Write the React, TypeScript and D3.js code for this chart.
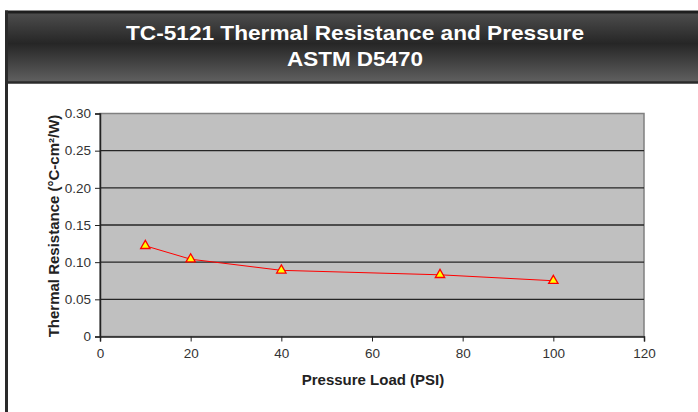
import { useEffect, useRef } from 'react'
import * as d3 from 'd3'

const pressure = [10, 20, 40, 75, 100]
const resistance = [0.122, 0.104, 0.089, 0.083, 0.075]
const xTicks = [0, 20, 40, 60, 80, 100, 120]
const yTicks = [0, 0.05, 0.1, 0.15, 0.2, 0.25, 0.3]
const titleLines = ['TC-5121 Thermal Resistance and Pressure', 'ASTM D5470']
const titleWidths = [458, 136]

export default function App() {
  const ref = useRef<SVGSVGElement>(null)

  useEffect(() => {
    const svg = d3.select(ref.current)
    svg.selectAll('*').remove()

    const W = 698, H = 412
    const plot = { left: 100, right: 644, top: 113.5, bottom: 336.5 }
    const font = 'Liberation Sans, Arial, sans-serif'

    const x = d3.scaleLinear().domain([0, 120]).range([plot.left, plot.right])
    const y = d3.scaleLinear().domain([0, 0.3]).range([plot.bottom, plot.top])

    // frame + title bar
    const defs = svg.append('defs')
    const grad = defs.append('linearGradient').attr('id', 'tb').attr('x1', 0).attr('y1', 0).attr('x2', 0).attr('y2', 1)
    grad.append('stop').attr('offset', '0%').attr('stop-color', '#4e4e4e')
    grad.append('stop').attr('offset', '45%').attr('stop-color', '#262626')
    grad.append('stop').attr('offset', '100%').attr('stop-color', '#606060')

    svg.append('rect').attr('x', 0).attr('y', 0).attr('width', W).attr('height', H).attr('fill', '#fff')
    svg.append('rect').attr('x', 6).attr('y', 12).attr('width', W).attr('height', 70).attr('fill', 'url(#tb)')
    svg.append('line').attr('x1', 5).attr('x2', W).attr('y1', 12).attr('y2', 12).attr('stroke', '#1e1e1e').attr('stroke-width', 3)
    svg.append('line').attr('x1', 5).attr('x2', W).attr('y1', 82.5).attr('y2', 82.5).attr('stroke', '#2a2a2a').attr('stroke-width', 2.5)
    svg.append('line').attr('x1', 6.5).attr('x2', 6.5).attr('y1', 10.5).attr('y2', H).attr('stroke', '#2a2a2a').attr('stroke-width', 3)

    svg.selectAll('text.title')
      .data(titleLines)
      .join('text')
      .attr('class', 'title')
      .attr('x', 355)
      .attr('y', (d, i) => 39.5 + i * 26.5)
      .attr('text-anchor', 'middle')
      .attr('fill', '#fff')
      .attr('font-family', font)
      .attr('font-weight', 'bold')
      .attr('font-size', 21)
      .attr('textLength', (d, i) => titleWidths[i])
      .attr('lengthAdjust', 'spacingAndGlyphs')
      .text((d) => d)

    // plot area
    svg.append('rect')
      .attr('x', plot.left).attr('y', plot.top)
      .attr('width', plot.right - plot.left).attr('height', plot.bottom - plot.top)
      .attr('fill', '#c0c0c0').attr('stroke', '#808080').attr('stroke-width', 1.5)

    svg.append('g')
      .selectAll('line')
      .data(yTicks.filter((d) => d > 0 && d < 0.3))
      .join('line')
      .attr('x1', plot.left).attr('x2', plot.right)
      .attr('y1', (d) => y(d)).attr('y2', (d) => y(d))
      .attr('stroke', '#262626').attr('stroke-width', 1.3)

    const fmtY = (d: number) => (d === 0 ? '0' : d3.format('.2f')(d))

    const yAxis = svg.append('g')
      .attr('transform', `translate(${plot.left},0)`)
      .call(d3.axisLeft(y).tickValues(yTicks).tickFormat((d) => fmtY(+d)).tickSize(5).tickPadding(4))
    const xAxis = svg.append('g')
      .attr('transform', `translate(0,${plot.bottom})`)
      .call(d3.axisBottom(x).tickValues(xTicks).tickFormat(d3.format('d')).tickSize(5).tickPadding(7))

    ;[yAxis, xAxis].forEach((g) => {
      g.select('.domain').attr('stroke', '#222').attr('stroke-width', 1.5)
      g.selectAll('.tick line').attr('stroke', '#222')
      g.selectAll('.tick text')
        .attr('fill', '#333')
        .attr('font-family', font)
        .attr('font-size', 13.5)
    })

    // axis titles
    svg.append('text')
      .attr('transform', `translate(59,${(plot.top + plot.bottom) / 2 + 1}) rotate(-90)`)
      .attr('text-anchor', 'middle')
      .attr('fill', '#222')
      .attr('font-family', font)
      .attr('font-weight', 'bold')
      .attr('font-size', 15)
      .text('Thermal Resistance (°C-cm²/W)')

    svg.append('text')
      .attr('x', 373).attr('y', 385)
      .attr('text-anchor', 'middle')
      .attr('fill', '#222')
      .attr('font-family', font)
      .attr('font-weight', 'bold')
      .attr('font-size', 15)
      .text('Pressure Load (PSI)')

    // series
    const pts = pressure.map((p, i) => [p, resistance[i]] as [number, number])
    const line = d3.line<[number, number]>().x((d) => x(d[0])).y((d) => y(d[1]))
    svg.append('path')
      .datum(pts)
      .attr('d', line)
      .attr('fill', 'none')
      .attr('stroke', '#ff0000')
      .attr('stroke-width', 1)

    const tri = d3.symbol().type(d3.symbolTriangle).size(38)
    svg.append('g')
      .selectAll('path')
      .data(pts)
      .join('path')
      .attr('transform', (d) => `translate(${x(d[0])},${y(d[1])})`)
      .attr('d', tri)
      .attr('fill', '#ffff00')
      .attr('stroke', '#ff0000')
      .attr('stroke-width', 1.3)
  }, [])

  return (
    <svg ref={ref} width={698} height={412} style={{ position: 'absolute', left: 0, top: 0 }} />
  )
}
